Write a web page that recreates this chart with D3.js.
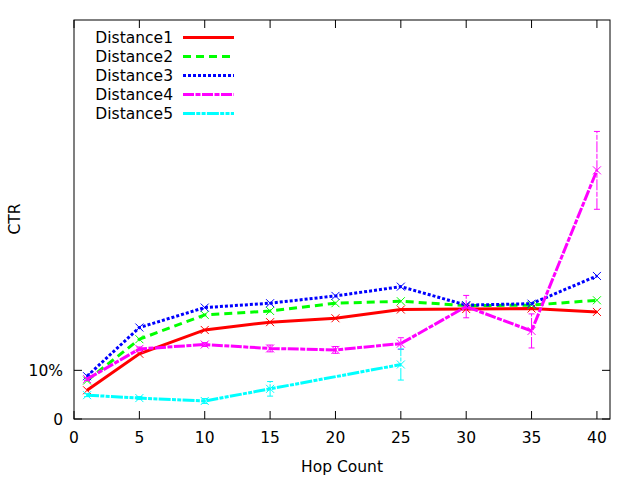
<!DOCTYPE html>
<html>
<head>
<meta charset="utf-8">
<script src="https://d3js.org/d3.v7.min.js"></script>
<style>
  html, body { margin: 0; padding: 0; background: #fff; }
  svg { display: block; font-family: "DejaVu Sans", sans-serif; }
</style>
</head>
<body>
<svg id="chart" width="640" height="480"></svg>
<script>
// hop counts and CTR per distance
const hops = [1, 5, 10, 15, 20, 25, 30, 35, 40];
const d1 = [0.059, 0.134, 0.183, 0.199, 0.207, 0.225, 0.226, 0.227, 0.220];
const d2 = [0.079, 0.164, 0.214, 0.222, 0.238, 0.242, 0.233, 0.234, 0.244];
const d3v = [0.088, 0.188, 0.229, 0.238, 0.253, 0.272, 0.234, 0.237, 0.294];
const d4 = [0.082, 0.144, 0.153, 0.145, 0.142, 0.155, 0.231, 0.181, 0.511];
const d4err = [0.003, 0.004, 0.004, 0.007, 0.007, 0.012, 0.023, 0.035, 0.080];
const hops5 = [1, 5, 10, 15, 25];
const d5 = [0.049, 0.043, 0.037, 0.062, 0.112];
const d5err = [0.003, 0.003, 0.005, 0.015, 0.032];
const xTicks = [0, 5, 10, 15, 20, 25, 30, 35, 40];
const yTicks = [0, 0.1];
const yTickLabels = ["0", "10%"];

(function () {
  "use strict";
  const svg = d3.select("#chart");
  const left = 74, right = 610, top = 20, bottom = 419;
  const fs = 15.5;
  const x = d3.scaleLinear().domain([0, 41]).range([left, right]);
  const y = d3.scaleLinear().domain([0, 0.82]).range([bottom, top]);

  const series = [
    { name: "Distance1", xs: hops, ys: d1, err: null, color: "#ff0000", dash: null },
    { name: "Distance2", xs: hops, ys: d2, err: null, color: "#00ff00", dash: "8,5" },
    { name: "Distance3", xs: hops, ys: d3v, err: null, color: "#0000ff", dash: "3,2" },
    { name: "Distance4", xs: hops, ys: d4, err: d4err, color: "#ff00ff", dash: "11,1.5,5,1.5" },
    { name: "Distance5", xs: hops5, ys: d5, err: d5err, color: "#00ffff", dash: "12,1.3,4,1.3,4,1.3" },
  ];

  // frame
  svg.append("rect")
    .attr("x", left).attr("y", top)
    .attr("width", right - left).attr("height", bottom - top)
    .attr("fill", "none").attr("stroke", "#000").attr("stroke-width", 1);

  // inward ticks, mirrored like gnuplot
  const tk = 8;
  const axes = svg.append("g").attr("stroke", "#000").attr("stroke-width", 1);
  xTicks.forEach((t) => {
    axes.append("line").attr("x1", x(t)).attr("x2", x(t)).attr("y1", bottom).attr("y2", bottom - tk);
    axes.append("line").attr("x1", x(t)).attr("x2", x(t)).attr("y1", top).attr("y2", top + tk);
  });
  yTicks.forEach((t) => {
    axes.append("line").attr("x1", left).attr("x2", left + tk).attr("y1", y(t)).attr("y2", y(t));
    axes.append("line").attr("x1", right).attr("x2", right - tk).attr("y1", y(t)).attr("y2", y(t));
  });

  svg.append("g").selectAll("text").data(xTicks).join("text")
    .attr("x", (d) => x(d)).attr("y", 443)
    .attr("text-anchor", "middle").attr("font-size", fs).text((d) => d);
  svg.append("g").selectAll("text").data(yTicks).join("text")
    .attr("x", 63).attr("y", (d) => y(d) + 5.5)
    .attr("text-anchor", "end").attr("font-size", fs).text((d, i) => yTickLabels[i]);

  svg.append("text").attr("x", 342).attr("y", 472).attr("text-anchor", "middle")
    .attr("font-size", fs).text("Hop Count");
  svg.append("text").attr("transform", "translate(20,219) rotate(-90)")
    .attr("text-anchor", "middle").attr("font-size", fs).text("CTR");

  const line = d3.line().x((d) => x(d[0])).y((d) => y(d[1]));
  const plot = svg.append("g");

  series.forEach((s) => {
    const pts = s.xs.map((h, i) => [h, s.ys[i]]);
    const g = plot.append("g");
    if (s.err) {
      s.xs.forEach((h, i) => {
        const cx = x(h), y0 = y(s.ys[i] - s.err[i]), y1 = y(s.ys[i] + s.err[i]);
        const eb = g.append("g").attr("stroke", s.color).attr("stroke-width", 1);
        eb.append("line").attr("x1", cx).attr("x2", cx).attr("y1", y0).attr("y2", y1)
          .attr("stroke-dasharray", s.dash);
        eb.append("line").attr("x1", cx - 3).attr("x2", cx + 3).attr("y1", y0).attr("y2", y0);
        eb.append("line").attr("x1", cx - 3).attr("x2", cx + 3).attr("y1", y1).attr("y2", y1);
      });
    }
    g.append("path").datum(pts).attr("d", line)
      .attr("fill", "none").attr("stroke", s.color).attr("stroke-width", 3)
      .attr("stroke-dasharray", s.dash);
    g.selectAll("path.pt").data(pts).join("path").attr("class", "pt")
      .attr("d", (d) => {
        const cx = x(d[0]), cy = y(d[1]), r = 4;
        return `M${cx - r},${cy - r}L${cx + r},${cy + r}M${cx - r},${cy + r}L${cx + r},${cy - r}`;
      })
      .attr("stroke", s.color).attr("stroke-width", 1).attr("fill", "none");
  });

  // legend
  const leg = svg.append("g");
  series.forEach((s, i) => {
    const ly = 37.5 + i * 19;
    leg.append("text").attr("x", 173).attr("y", ly + 5.5).attr("text-anchor", "end")
      .attr("font-size", fs).text(s.name);
    leg.append("line").attr("x1", 183).attr("x2", 234).attr("y1", ly).attr("y2", ly)
      .attr("stroke", s.color).attr("stroke-width", 3).attr("stroke-dasharray", s.dash);
  });
})();
</script>
</body>
</html>
